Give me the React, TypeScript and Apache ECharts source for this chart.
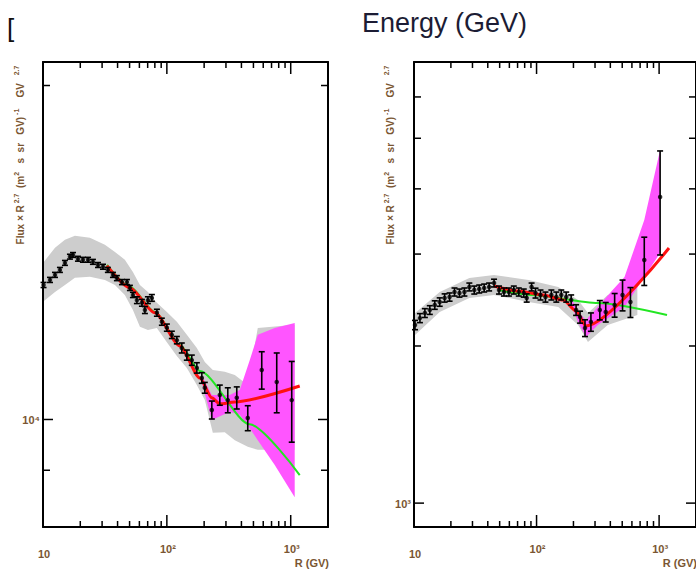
import React, { useEffect, useRef } from "react";
import * as echarts from "echarts";

// Rigidity range (GV), shared by both panels
const R_MIN = 10;
const R_MAX = 2000;

// Flux × R^2.7 ranges of the two panels
const LEFT_FLUX_MIN = 8000;
const LEFT_FLUX_MAX = 21000;
const RIGHT_FLUX_MIN = 900;
const RIGHT_FLUX_MAX = 7000;

// Axis ticks
const xMajorTicks = [100, 1000];
const xMinorTicks = [20, 30, 40, 50, 60, 70, 80, 90, 200, 300, 400, 500, 600, 700, 800, 900];
const leftYMajorTicks = [10000];
const leftYMinorTicks = [9000, 20000];
const rightYMajorTicks = [1000];
const rightYMinorTicks = [2000, 3000, 4000, 5000, 6000];

// Tick labels
const xLabelValues = [10, 100, 1000];
const xLabelTexts = ["10", "10²", "10³"];
const leftYLabelValues = [10000];
const leftYLabelTexts = ["10⁴"];
const rightYLabelValues = [1000];
const rightYLabelTexts = ["10³"];

// ---------- Left panel ----------
const leftR = [
  10.1, 11.39, 12.5, 13.7, 15.04, 16.5, 17.46, 19.15, 21.0, 23.1, 25.3, 27.8, 30.5, 33.4, 36.7,
  39.5, 43.4, 47.6, 50.3, 53.2, 57.3, 62.9, 66.5, 70.3, 75.7, 83.1, 91.1, 100, 109.7, 120.4, 132,
  145, 159, 174.6, 191.6, 202.5, 230.7, 267.6, 310.4, 366.8, 450, 583.6, 771, 1019,
];
const leftFlux = [
  13220, 13360, 13500, 13640, 13840, 14020, 14070, 13960, 13930, 13930, 13870, 13780, 13730, 13640,
  13500, 13410, 13300, 13300, 13140, 12950, 12810, 12740, 12550, 12810, 12870, 12480, 12250, 12100,
  11920, 11790, 11600, 11430, 11310, 11130, 10900, 10680, 10200, 10520, 10410, 10460, 10030, 11080,
  10810, 10410,
];
const leftErr = [
  70, 70, 70, 70, 70, 70, 70, 70, 70, 70, 70, 70, 70, 70, 70, 70, 70, 70, 70, 70, 90, 90, 90, 90,
  90, 90, 90, 90, 90, 90, 120, 120, 120, 120, 120, 120, 190, 220, 270, 240, 260, 430, 670, 870,
];
const leftGrayR = [
  10, 12.5, 15.04, 18.1, 23.9, 31.6, 38.1, 45.8, 53.2, 60.6, 70.3, 83.0, 100, 120.4, 145, 174.6,
  202.5, 235, 293.6, 353.6, 450, 542, 1077,
];
const leftGrayLo = [
  12770, 13030, 13220, 13420, 13450, 13360, 13220, 12950, 12550, 12120, 12040, 12090, 11740, 11410,
  11130, 10740, 10410, 9730, 9740, 9580, 9450, 9390, 9390,
];
const leftGrayHi = [
  13840, 14280, 14520, 14640, 14580, 14370, 14160, 13930, 13580, 13220, 13030, 12740, 12500, 12250,
  11920, 11600, 11270, 11080, 11040, 10970, 10740, 12090, 12170,
];
const leftPinkR = [191.6, 230.7, 322, 387.9, 466.7, 542, 743, 1077];
const leftPinkLo = [10800, 9990, 10160, 10100, 9820, 9580, 9100, 8510];
const leftPinkHi = [10950, 10520, 10520, 10630, 11310, 11920, 12090, 12220];
const leftRedR = [32.8, 50.3, 80.0, 127.3, 184.6, 230.7, 267.6, 353.6, 1182];
const leftRedFlux = [13760, 13140, 12480, 11650, 10900, 10460, 10330, 10370, 10720];
const leftGreenR = [32.8, 50.3, 80.0, 127.3, 184.6, 466.7, 1182];
const leftGreenFlux = [13780, 13170, 12500, 11670, 11060, 9900, 8910];

// ---------- Right panel ----------
const rightR = [
  10.19, 11.18, 12.27, 13.46, 14.77, 16.21, 17.78, 19.51, 21.41, 23.5, 25.78, 28.29, 31.04, 34.07,
  37.38, 41.02, 45.0, 49.4, 54.2, 59.5, 65.2, 71.6, 78.6, 83.1, 91.1, 98.1, 107.7, 118.2, 132.1,
  145, 159.1, 174.6, 191.6, 210.2, 226.4, 248.5, 277.7, 328.2, 366.8, 433.6, 503, 583.6, 756.8,
  1019,
];
const rightFlux = [
  2194, 2262, 2313, 2344, 2396, 2428, 2472, 2482, 2538, 2526, 2538, 2595, 2560, 2572, 2583, 2595,
  2640, 2560, 2538, 2538, 2560, 2538, 2526, 2472, 2595, 2526, 2505, 2482, 2505, 2482, 2505, 2482,
  2450, 2344, 2272, 2165, 2224, 2344, 2323, 2396, 2505, 2428, 2922, 3858,
];
const rightErr = [
  45, 45, 45, 45, 45, 45, 45, 45, 45, 45, 45, 45, 45, 45, 45, 45, 45, 45, 45, 45, 45, 45, 45, 45,
  45, 55, 55, 55, 55, 55, 55, 55, 55, 55, 60, 80, 90, 100, 100, 125, 170, 160, 310, 870,
];
const rightGrayR = [10, 16.21, 28.29, 45.0, 86.2, 150.5, 218.2, 262.7, 380.8, 664.6];
const rightGrayLo = [2090, 2323, 2472, 2505, 2428, 2375, 2194, 2036, 2194, 2293];
const rightGrayHi = [2303, 2538, 2699, 2735, 2676, 2595, 2450, 2313, 2505, 2617];
const rightPinkR = [191.6, 218.2, 253.1, 316.2, 417.8, 522, 756.8, 1019];
const rightPinkLo = [2400, 2224, 2081, 2194, 2293, 2375, 2712, 3014];
const rightPinkHi = [2470, 2323, 2244, 2375, 2560, 2712, 3487, 4748];
const rightRedR = [45.0, 71.6, 113.9, 165.1, 210.2, 253.1, 1204];
const rightRedFlux = [2606, 2549, 2505, 2450, 2334, 2184, 3081];
const rightGreenR = [49.4, 91.1, 316.2, 1160];
const rightGreenFlux = [2560, 2505, 2418, 2293];

const GRAY = "#cdcdcd";
const PINK = "#ff55ff";
const RED = "#ff1010";
const GREEN = "#22e622";
const LABEL_COLOR = "#7a5632";
const FAMILY = "'Liberation Sans', 'DejaVu Sans', Arial, sans-serif";
const SMALL_FONT = `bold 11px ${FAMILY}`;

// Axis title with raised exponents
const Y_TITLE =
  "{n|Flux × R}{s| 2.7}{n|  (m}{s|2}{n|   s  sr   GV)}{s| -1}{n|    GV}{s|    2.7}";
const Y_TITLE_RICH = {
  n: { font: `bold 10px ${FAMILY}`, fill: LABEL_COLOR, verticalAlign: "bottom", lineHeight: 13 },
  s: { font: `bold 7px ${FAMILY}`, fill: LABEL_COLOR, verticalAlign: "top", lineHeight: 13 },
};

const zip = (xs: number[], ys: number[]) => xs.map((x, i) => [x, ys[i]]);

function bandSeries(xi: number, yi: number, xs: number[], lo: number[], hi: number[], color: string, z: number) {
  return {
    type: "custom",
    xAxisIndex: xi,
    yAxisIndex: yi,
    z,
    silent: true,
    data: [[xs[0], lo[0]]],
    renderItem: (_params: any, api: any) => {
      const pts: number[][] = [];
      for (let i = 0; i < xs.length; i++) pts.push(api.coord([xs[i], hi[i]]));
      for (let i = xs.length - 1; i >= 0; i--) pts.push(api.coord([xs[i], lo[i]]));
      return { type: "polygon", shape: { points: pts }, style: { fill: color } };
    },
  };
}

function lineSeries(xi: number, yi: number, xs: number[], ys: number[], color: string, width: number, z: number) {
  return {
    type: "line",
    xAxisIndex: xi,
    yAxisIndex: yi,
    z,
    silent: true,
    showSymbol: false,
    smooth: 0.25,
    smoothMonotone: "x",
    data: zip(xs, ys),
    lineStyle: { color, width },
  };
}

function errorSeries(xi: number, yi: number, xs: number[], ys: number[], err: number[]) {
  return {
    type: "custom",
    xAxisIndex: xi,
    yAxisIndex: yi,
    z: 6,
    silent: true,
    data: xs.map((x, i) => [x, ys[i], err[i]]),
    renderItem: (_params: any, api: any) => {
      const x = api.value(0);
      const y = api.value(1);
      const e = api.value(2);
      const top = api.coord([x, y + e]);
      const bot = api.coord([x, y - e]);
      const st = { stroke: "#000", lineWidth: 1.6 };
      return {
        type: "group",
        children: [
          { type: "line", shape: { x1: top[0], y1: top[1], x2: bot[0], y2: bot[1] }, style: st },
          { type: "line", shape: { x1: top[0] - 3, y1: top[1], x2: top[0] + 3, y2: top[1] }, style: st },
          { type: "line", shape: { x1: bot[0] - 3, y1: bot[1], x2: bot[0] + 3, y2: bot[1] }, style: st },
        ],
      };
    },
  };
}

function pointSeries(xi: number, yi: number, xs: number[], ys: number[]) {
  return {
    type: "scatter",
    xAxisIndex: xi,
    yAxisIndex: yi,
    z: 7,
    silent: true,
    symbol: "circle",
    symbolSize: 4.5,
    itemStyle: { color: "#000" },
    data: zip(xs, ys),
  };
}

function tickSeries(xi: number, yi: number, yMin: number, yMax: number, yMajor: number[], yMinor: number[]) {
  const data: number[][] = [];
  xMajorTicks.forEach((v) => data.push([v, yMin, 1]));
  xMinorTicks.forEach((v) => data.push([v, yMin, 0]));
  yMajor.forEach((v) => data.push([R_MIN, v, 3]));
  yMinor.forEach((v) => data.push([R_MIN, v, 2]));
  return {
    type: "custom",
    xAxisIndex: xi,
    yAxisIndex: yi,
    z: 20,
    silent: true,
    data,
    renderItem: (_params: any, api: any) => {
      const kind = api.value(2);
      const st = { stroke: "#000", lineWidth: 1.5 };
      if (kind < 2) {
        const v = api.value(0);
        const b = api.coord([v, yMin]);
        const t = api.coord([v, yMax]);
        const len = kind === 1 ? 12 : 6;
        return {
          type: "group",
          children: [
            { type: "line", shape: { x1: b[0], y1: b[1], x2: b[0], y2: b[1] - len }, style: st },
            { type: "line", shape: { x1: t[0], y1: t[1], x2: t[0], y2: t[1] + len }, style: st },
          ],
        };
      }
      const v = api.value(1);
      const l = api.coord([R_MIN, v]);
      const r = api.coord([R_MAX, v]);
      const len = kind === 3 ? 10 : 7;
      return {
        type: "group",
        children: [
          { type: "line", shape: { x1: l[0], y1: l[1], x2: l[0] + len, y2: l[1] }, style: st },
          { type: "line", shape: { x1: r[0], y1: r[1], x2: r[0] - len, y2: r[1] }, style: st },
        ],
      };
    },
  };
}

function labelSeries(xi: number, yi: number, yMin: number, yVals: number[], yTexts: string[]) {
  const data: number[][] = [];
  const texts: string[] = [];
  xLabelValues.forEach((v, i) => {
    data.push([v, yMin, 0]);
    texts.push(xLabelTexts[i]);
  });
  yVals.forEach((v, i) => {
    data.push([R_MIN, v, 1]);
    texts.push(yTexts[i]);
  });
  data.push([R_MAX, yMin, 2]);
  texts.push("R (GV)");
  return {
    type: "custom",
    xAxisIndex: xi,
    yAxisIndex: yi,
    z: 20,
    silent: true,
    clip: false,
    data,
    renderItem: (params: any, api: any) => {
      const kind = api.value(2);
      const p = api.coord([api.value(0), api.value(1)]);
      const text = texts[params.dataIndex];
      const base = { text, font: SMALL_FONT, fill: LABEL_COLOR };
      if (kind === 0) {
        const plain = text.length === 2;
        return {
          type: "text",
          x: p[0] + 1,
          y: p[1] + (plain ? 27 : 22),
          style: { ...base, align: "center", verticalAlign: "middle" },
        };
      }
      if (kind === 1) {
        return {
          type: "text",
          x: p[0] - 3,
          y: p[1] + 1,
          style: { ...base, align: "right", verticalAlign: "middle" },
        };
      }
      return {
        type: "text",
        x: p[0] + 1,
        y: p[1] + 36,
        style: { ...base, align: "right", verticalAlign: "middle" },
      };
    },
  };
}

function axisPair(gridIndex: number, min: number, max: number, dir: "x" | "y") {
  const common = {
    type: "log",
    logBase: 10,
    gridIndex,
    min,
    max,
    z: 10,
    axisLine: { show: true, onZero: false, lineStyle: { color: "#000", width: 2 } },
    axisTick: { show: false },
    axisLabel: { show: false },
    splitLine: { show: false },
    minorTick: { show: false },
  };
  return dir === "x"
    ? [
        { ...common, position: "bottom" },
        { ...common, position: "top" },
      ]
    : [
        { ...common, position: "left" },
        { ...common, position: "right" },
      ];
}

function yTitle(x: number) {
  return {
    type: "text",
    x,
    y: 155,
    rotation: Math.PI / 2,
    style: { text: Y_TITLE, rich: Y_TITLE_RICH, align: "center", verticalAlign: "middle" },
  };
}

export default function App() {
  const ref = useRef<HTMLDivElement>(null);

  useEffect(() => {
    if (!ref.current) return;
    const chart = echarts.init(ref.current, undefined, { renderer: "svg" });
    const option: any = {
      animation: false,
      backgroundColor: "#ffffff",
      grid: [
        { left: 43, top: 62, width: 285, height: 465 },
        { left: 414, top: 62, width: 285, height: 465 },
      ],
      xAxis: [...axisPair(0, R_MIN, R_MAX, "x"), ...axisPair(1, R_MIN, R_MAX, "x")],
      yAxis: [
        ...axisPair(0, LEFT_FLUX_MIN, LEFT_FLUX_MAX, "y"),
        ...axisPair(1, RIGHT_FLUX_MIN, RIGHT_FLUX_MAX, "y"),
      ],
      series: [
        bandSeries(0, 0, leftGrayR, leftGrayLo, leftGrayHi, GRAY, 1),
        bandSeries(0, 0, leftPinkR, leftPinkLo, leftPinkHi, PINK, 2),
        lineSeries(0, 0, leftGreenR, leftGreenFlux, GREEN, 2, 3),
        lineSeries(0, 0, leftRedR, leftRedFlux, RED, 3, 4),
        errorSeries(0, 0, leftR, leftFlux, leftErr),
        pointSeries(0, 0, leftR, leftFlux),
        tickSeries(0, 0, LEFT_FLUX_MIN, LEFT_FLUX_MAX, leftYMajorTicks, leftYMinorTicks),
        labelSeries(0, 0, LEFT_FLUX_MIN, leftYLabelValues, leftYLabelTexts),

        bandSeries(2, 2, rightGrayR, rightGrayLo, rightGrayHi, GRAY, 1),
        bandSeries(2, 2, rightPinkR, rightPinkLo, rightPinkHi, PINK, 2),
        lineSeries(2, 2, rightGreenR, rightGreenFlux, GREEN, 2, 3),
        lineSeries(2, 2, rightRedR, rightRedFlux, RED, 3, 4),
        errorSeries(2, 2, rightR, rightFlux, rightErr),
        pointSeries(2, 2, rightR, rightFlux),
        tickSeries(2, 2, RIGHT_FLUX_MIN, RIGHT_FLUX_MAX, rightYMajorTicks, rightYMinorTicks),
        labelSeries(2, 2, RIGHT_FLUX_MIN, rightYLabelValues, rightYLabelTexts),
      ],
      graphic: [
        {
          type: "text",
          x: 7,
          y: 28,
          style: { text: "[", font: `26px ${FAMILY}`, fill: "#111", verticalAlign: "middle" },
        },
        {
          type: "text",
          x: 362,
          y: 22.5,
          style: { text: "Energy (GeV)", font: `27px ${FAMILY}`, fill: "#1c1c34", verticalAlign: "middle" },
        },
        yTitle(19),
        yTitle(389),
      ],
    };
    chart.setOption(option);
    return () => chart.dispose();
  }, []);

  return (
    <div
      ref={ref}
      style={{ position: "absolute", left: 0, top: 0, width: 696, height: 573, overflow: "hidden" }}
    />
  );
}
